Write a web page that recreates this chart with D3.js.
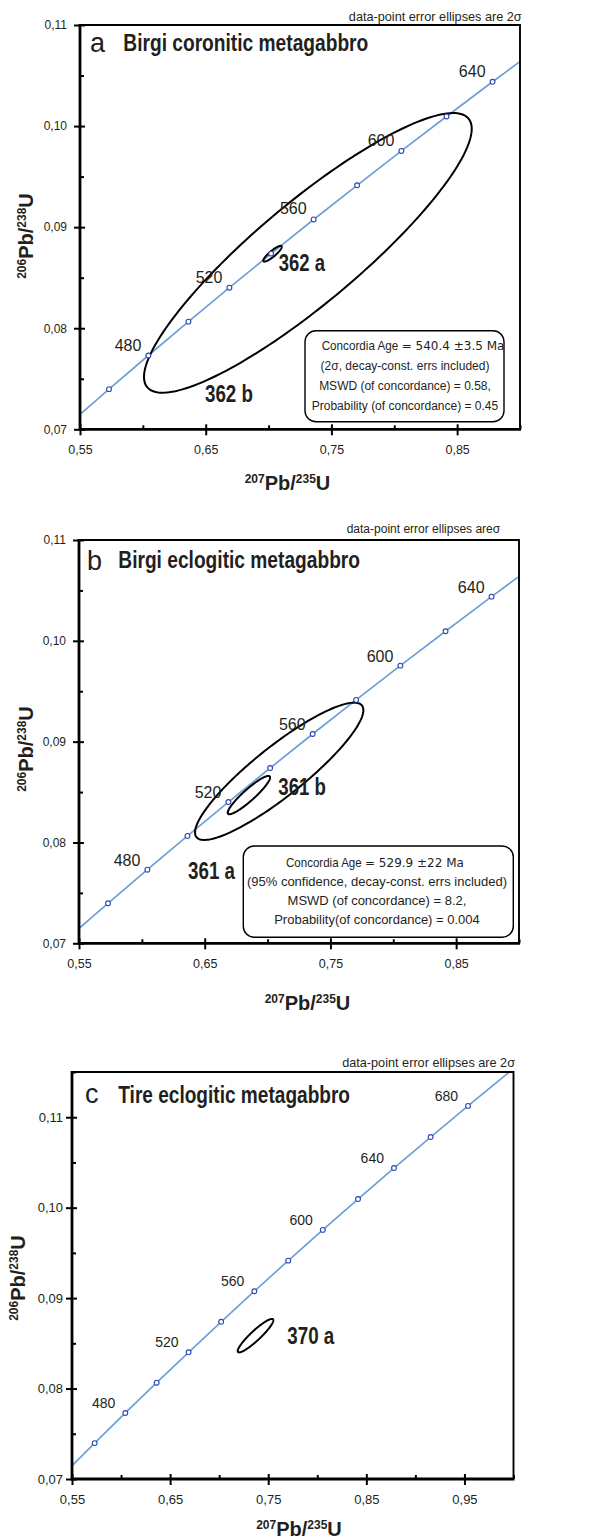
<!DOCTYPE html>
<html><head><meta charset="utf-8">
<script src="https://cdn.jsdelivr.net/npm/d3@7/dist/d3.min.js"></script>
<style>
body{margin:0;background:#fff}
svg{display:block}
</style>
</head><body>
<svg id="chart" width="594" height="1540"></svg>
<script>
// ---------------- data ----------------
const concordiaAges      = [440, 460, 480, 500, 520, 540, 560, 580, 600, 620, 640, 660, 680, 700, 720];
const concordiaPb207U235 = [0.54239, 0.57307, 0.60436, 0.63628, 0.66883, 0.70203, 0.73588, 0.77041, 0.80563, 0.84155, 0.87818, 0.91554, 0.95365, 0.99251, 1.03215];
const concordiaPb206U238 = [0.07064, 0.07397, 0.07730, 0.08065, 0.08401, 0.08738, 0.09076, 0.09414, 0.09754, 0.10095, 0.10438, 0.10781, 0.11125, 0.11470, 0.11818];

const panelIds    = ["a", "b", "c"];
const panelTitles = ["Birgi coronitic metagabbro", "Birgi eclogitic metagabbro", "Tire eclogitic metagabbro"];
const xDomains    = [[0.55, 0.90], [0.55, 0.90], [0.55, 1.00]];
const yDomains    = [[0.07, 0.11], [0.07, 0.11], [0.07, 0.115]];
const markerAges  = [[460, 480, 500, 520, 540, 560, 580, 600, 620, 640],
                     [460, 480, 500, 520, 540, 560, 580, 600, 620, 640],
                     [460, 480, 500, 520, 540, 560, 580, 600, 620, 640, 660, 680]];
const labelAges   = [[480, 520, 560, 600, 640],
                     [480, 520, 560, 600, 640],
                     [480, 520, 560, 600, 640, 680]];

const xMajorTicks = [[0.55, 0.65, 0.75, 0.85], [0.55, 0.65, 0.75, 0.85], [0.55, 0.65, 0.75, 0.85, 0.95]];
const xMinorTicks = [[0.60, 0.70, 0.80, 0.90], [0.60, 0.70, 0.80, 0.90], [0.60, 0.70, 0.80, 0.90, 1.00]];
const yMajorTicks = [[0.07, 0.08, 0.09, 0.10, 0.11], [0.07, 0.08, 0.09, 0.10, 0.11], [0.07, 0.08, 0.09, 0.10, 0.11]];
const yMinorTicks = [[0.075, 0.085, 0.095, 0.105], [0.075, 0.085, 0.095, 0.105], [0.075, 0.085, 0.095, 0.105, 0.115]];

// error ellipses: centre, half widths and correlation
const ellipseNames = ["362 b", "362 a", "361 a", "361 b", "370 a"];
const ellipsePanel = ["a", "a", "b", "b", "c"];
const ellipseCx    = [0.73125, 0.70315, 0.70925, 0.68515, 0.73705];
const ellipseCy    = [0.087455, 0.08737, 0.08706, 0.08470, 0.08585];
const ellipseSx    = [0.13035, 0.00735, 0.06695, 0.01685, 0.01815];
const ellipseSy    = [0.013835, 0.00078, 0.00681, 0.00190, 0.00185];
const ellipseRho   = [0.887, 0.88, 0.89, 0.92, 0.92];

const errorNotes   = ["data-point error ellipses are 2σ", "data-point error ellipses areσ", "data-point error ellipses are 2σ"];
const ageLabel     = ["Concordia Age", "Concordia Age"];
const ageValue     = ["= 540.4 ±3.5 Ma", "= 529.9 ±22 Ma"];
const boxLines     = [["(2σ, decay-const. errs included)", "MSWD (of concordance) = 0.58,", "Probability (of concordance) = 0.45"],
                      ["(95% confidence, decay-const. errs included)", "MSWD  (of concordance) = 8.2,", "Probability(of concordance) = 0.004"]];

// ---------------- layout ----------------
const layout = {
  a: {x0: 80, x1: 520, y0: 429.3, y1: 25,
      letterX: 90, letterY: 51.5, titleX: 123.3, titleY: 50.5, titleW: 245,
      note: {x: 521.7, y: 20.7, fs: 12.7, anchor: "end"},
      ylab: {x: 33, y: 236}, xlab: {x: 287.5, y: 490},
      ytickPad: 7, yFs: 12, xFs: 12.5, ageFs: 16, ageDx: -7, ageDy: -5,
      box: {x: 305, y: 330.7, w: 199, h: 91, l1x: 321.7, valx: 401.7, l1y: 350, lw: 76.6, cx: 405, ys: [370, 390, 409.5], fs: 12},
      samples: {"362 b": [205, 401.7, 48], "362 a": [278.7, 271, 46.3]}},
  b: {x0: 79, x1: 519, y0: 943.3, y1: 540,
      letterX: 87, letterY: 569.5, titleX: 118.3, titleY: 568.3, titleW: 241.7,
      note: {x: 346.7, y: 532.7, fs: 12, anchor: "start"},
      ylab: {x: 33, y: 749}, xlab: {x: 307.5, y: 1010},
      ytickPad: 7, yFs: 12, xFs: 12.5, ageFs: 16, ageDx: -7, ageDy: -4,
      box: {x: 243.3, y: 846, w: 270, h: 91.3, l1x: 286, valx: 365, l1y: 867, lw: 75.7, cx: 377, ys: [886, 905, 924], fs: 13},
      samples: {"361 a": [188, 879, 47], "361 b": [278.3, 795, 47.7]}},
  c: {x0: 72, x1: 513.5, y0: 1479, y1: 1072,
      letterX: 85, letterY: 1103.3, titleX: 118.3, titleY: 1103.3, titleW: 231.7,
      note: {x: 515, y: 1066.7, fs: 12.7, anchor: "end"},
      ylab: {x: 25, y: 1278}, xlab: {x: 299, y: 1536},
      ytickPad: 3, yFs: 13, xFs: 13, ageFs: 14, ageDx: -10, ageDy: -5,
      box: null,
      samples: {"370 a": [287.3, 1344, 47]}}
};

const TXT = "#231f20";
const SANS = "'Liberation Sans', Arial, Helvetica, sans-serif";
const NARROW = "'Liberation Sans Narrow', 'Liberation Sans', Arial, sans-serif";
const svg = d3.select("#chart");
svg.append("rect").attr("width", 594).attr("height", 1540).attr("fill", "#fff");
const defs = svg.append("defs");
const fmt = d => d3.format(".2f")(d).replace(".", ",");

panelIds.forEach((pid, i) => {
  const L = layout[pid];
  const x = d3.scaleLinear().domain(xDomains[i]).range([L.x0, L.x1]);
  const y = d3.scaleLinear().domain(yDomains[i]).range([L.y0, L.y1]);
  const g = svg.append("g");

  defs.append("clipPath").attr("id", "clip-" + pid)
    .append("rect").attr("x", L.x0).attr("y", L.y1).attr("width", L.x1 - L.x0).attr("height", L.y0 - L.y1);

  // concordia curve
  const pts = concordiaAges.map((a, k) => [concordiaPb207U235[k], concordiaPb206U238[k]]);
  g.append("path")
    .attr("clip-path", `url(#clip-${pid})`)
    .attr("d", d3.line().x(d => x(d[0])).y(d => y(d[1])).curve(d3.curveCatmullRom)(pts))
    .attr("fill", "none").attr("stroke", "#6e9fd8").attr("stroke-width", 1.7);

  // ellipses
  ellipseNames.forEach((nm, k) => {
    if (ellipsePanel[k] !== pid) return;
    const ring = d3.range(0, 361, 2).map(deg => {
      const t = deg * Math.PI / 180;
      const ex = ellipseCx[k] + ellipseSx[k] * Math.cos(t);
      const ey = ellipseCy[k] + ellipseSy[k] * (ellipseRho[k] * Math.cos(t) + Math.sqrt(1 - ellipseRho[k] ** 2) * Math.sin(t));
      return [ex, ey];
    });
    g.append("path")
      .attr("d", d3.line().x(d => x(d[0])).y(d => y(d[1])).curve(d3.curveLinearClosed)(ring))
      .attr("fill", "none").attr("stroke", "#000").attr("stroke-width", 2);
    const s = L.samples[nm];
    g.append("text").attr("x", s[0]).attr("y", s[1]).text(nm)
      .attr("font-family", NARROW).attr("font-weight", "bold").attr("font-size", 23)
      .attr("textLength", s[2]).attr("lengthAdjust", "spacingAndGlyphs").attr("fill", TXT);
  });

  // concordia markers
  markerAges[i].forEach(a => {
    const k = concordiaAges.indexOf(a);
    g.append("circle").attr("cx", x(concordiaPb207U235[k])).attr("cy", y(concordiaPb206U238[k])).attr("r", 2.4)
      .attr("fill", "#fff").attr("stroke", "#2a45b5").attr("stroke-width", 1.1);
  });
  labelAges[i].forEach(a => {
    const k = concordiaAges.indexOf(a);
    g.append("text").attr("x", x(concordiaPb207U235[k]) + L.ageDx).attr("y", y(concordiaPb206U238[k]) + L.ageDy)
      .attr("text-anchor", "end").attr("font-family", SANS).attr("font-size", L.ageFs).attr("fill", TXT).text(a);
  });

  // axes
  const yAx = g.append("g").attr("transform", `translate(${L.x0},0)`)
    .call(d3.axisLeft(y).tickValues(yMajorTicks[i]).tickFormat(fmt).tickSize(6).tickPadding(L.ytickPad));
  const yIn = g.append("g").attr("transform", `translate(${L.x0},0)`)
    .call(d3.axisLeft(y).tickValues(yMajorTicks[i]).tickFormat("").tickSize(-5));
  const yMin = g.append("g").attr("transform", `translate(${L.x0},0)`)
    .call(d3.axisLeft(y).tickValues(yMinorTicks[i]).tickFormat("").tickSize(-4));
  const xAx = g.append("g").attr("transform", `translate(0,${L.y0})`)
    .call(d3.axisBottom(x).tickValues(xMajorTicks[i]).tickFormat(fmt).tickSize(6).tickPadding(10));
  const xIn = g.append("g").attr("transform", `translate(0,${L.y0})`)
    .call(d3.axisBottom(x).tickValues(xMajorTicks[i]).tickFormat("").tickSize(-5));
  const xMin = g.append("g").attr("transform", `translate(0,${L.y0})`)
    .call(d3.axisBottom(x).tickValues(xMinorTicks[i]).tickFormat("").tickSize(-4));
  [yAx, yIn, yMin, xAx, xIn, xMin].forEach(a => {
    a.select(".domain").remove();
    a.selectAll("line").attr("stroke", "#000").attr("stroke-width", 2);
    a.selectAll("text").attr("font-family", SANS).attr("fill", TXT);
  });
  yAx.selectAll("text").attr("font-size", L.yFs);
  xAx.selectAll("text").attr("font-size", L.xFs);

  // frame
  g.append("path").attr("d", `M${L.x0},${L.y1}H${L.x1}V${L.y0}`)
    .attr("fill", "none").attr("stroke", "#000").attr("stroke-width", 1.9);
  g.append("path").attr("d", `M${L.x0},${L.y1 - 1}V${L.y0}H${L.x1 + 1}`)
    .attr("fill", "none").attr("stroke", "#000").attr("stroke-width", 2.8);

  // title
  g.append("text").attr("x", L.letterX).attr("y", L.letterY).text(pid)
    .attr("font-family", SANS).attr("font-size", 27).attr("fill", TXT);
  g.append("text").attr("x", L.titleX).attr("y", L.titleY).text(panelTitles[i])
    .attr("font-family", NARROW).attr("font-weight", "bold").attr("font-size", 23)
    .attr("textLength", L.titleW).attr("lengthAdjust", "spacingAndGlyphs").attr("fill", TXT);

  // error note
  g.append("text").attr("x", L.note.x).attr("y", L.note.y).attr("text-anchor", L.note.anchor)
    .attr("font-family", SANS).attr("font-size", L.note.fs).attr("fill", TXT).text(errorNotes[i]);

  // axis titles
  const xl = g.append("text").attr("x", L.xlab.x).attr("y", L.xlab.y).attr("text-anchor", "middle")
    .attr("font-family", SANS).attr("font-weight", "bold").attr("font-size", 20).attr("fill", TXT);
  xl.append("tspan").attr("font-size", 12).attr("dy", -7).text("207");
  xl.append("tspan").attr("dy", 7).text("Pb/");
  xl.append("tspan").attr("font-size", 12).attr("dy", -7).text("235");
  xl.append("tspan").attr("dy", 7).text("U");
  const yl = g.append("text").attr("transform", `translate(${L.ylab.x},${L.ylab.y}) rotate(-90)`).attr("text-anchor", "middle")
    .attr("font-family", SANS).attr("font-weight", "bold").attr("font-size", 20).attr("fill", TXT);
  yl.append("tspan").attr("font-size", 12).attr("dy", -7).text("206");
  yl.append("tspan").attr("dy", 7).text("Pb/");
  yl.append("tspan").attr("font-size", 12).attr("dy", -7).text("238");
  yl.append("tspan").attr("dy", 7).text("U");

  // result box
  if (L.box) {
    const B = L.box;
    defs.append("clipPath").attr("id", "boxclip-" + pid)
      .append("rect").attr("x", B.x).attr("y", B.y).attr("width", B.w).attr("height", B.h);
    g.append("rect").attr("x", B.x).attr("y", B.y).attr("width", B.w).attr("height", B.h).attr("rx", 11)
      .attr("fill", "#fff").attr("stroke", "#000").attr("stroke-width", 1.4);
    const bt = g.append("g").attr("clip-path", `url(#boxclip-${pid})`);
    bt.append("text").attr("x", B.l1x).attr("y", B.l1y).text(ageLabel[i])
      .attr("font-family", SANS).attr("font-size", 13).attr("textLength", B.lw).attr("lengthAdjust", "spacingAndGlyphs").attr("fill", TXT);
    bt.append("text").attr("x", B.valx).attr("y", B.l1y).text(ageValue[i])
      .attr("font-family", "'DejaVu Sans', sans-serif").attr("font-size", 12).attr("fill", TXT);
    boxLines[i].forEach((ln, k) => {
      bt.append("text").attr("x", B.cx).attr("y", B.ys[k]).attr("text-anchor", "middle").text(ln)
        .attr("font-family", SANS).attr("font-size", B.fs).attr("fill", TXT);
    });
  }
});
</script>
</body></html>
